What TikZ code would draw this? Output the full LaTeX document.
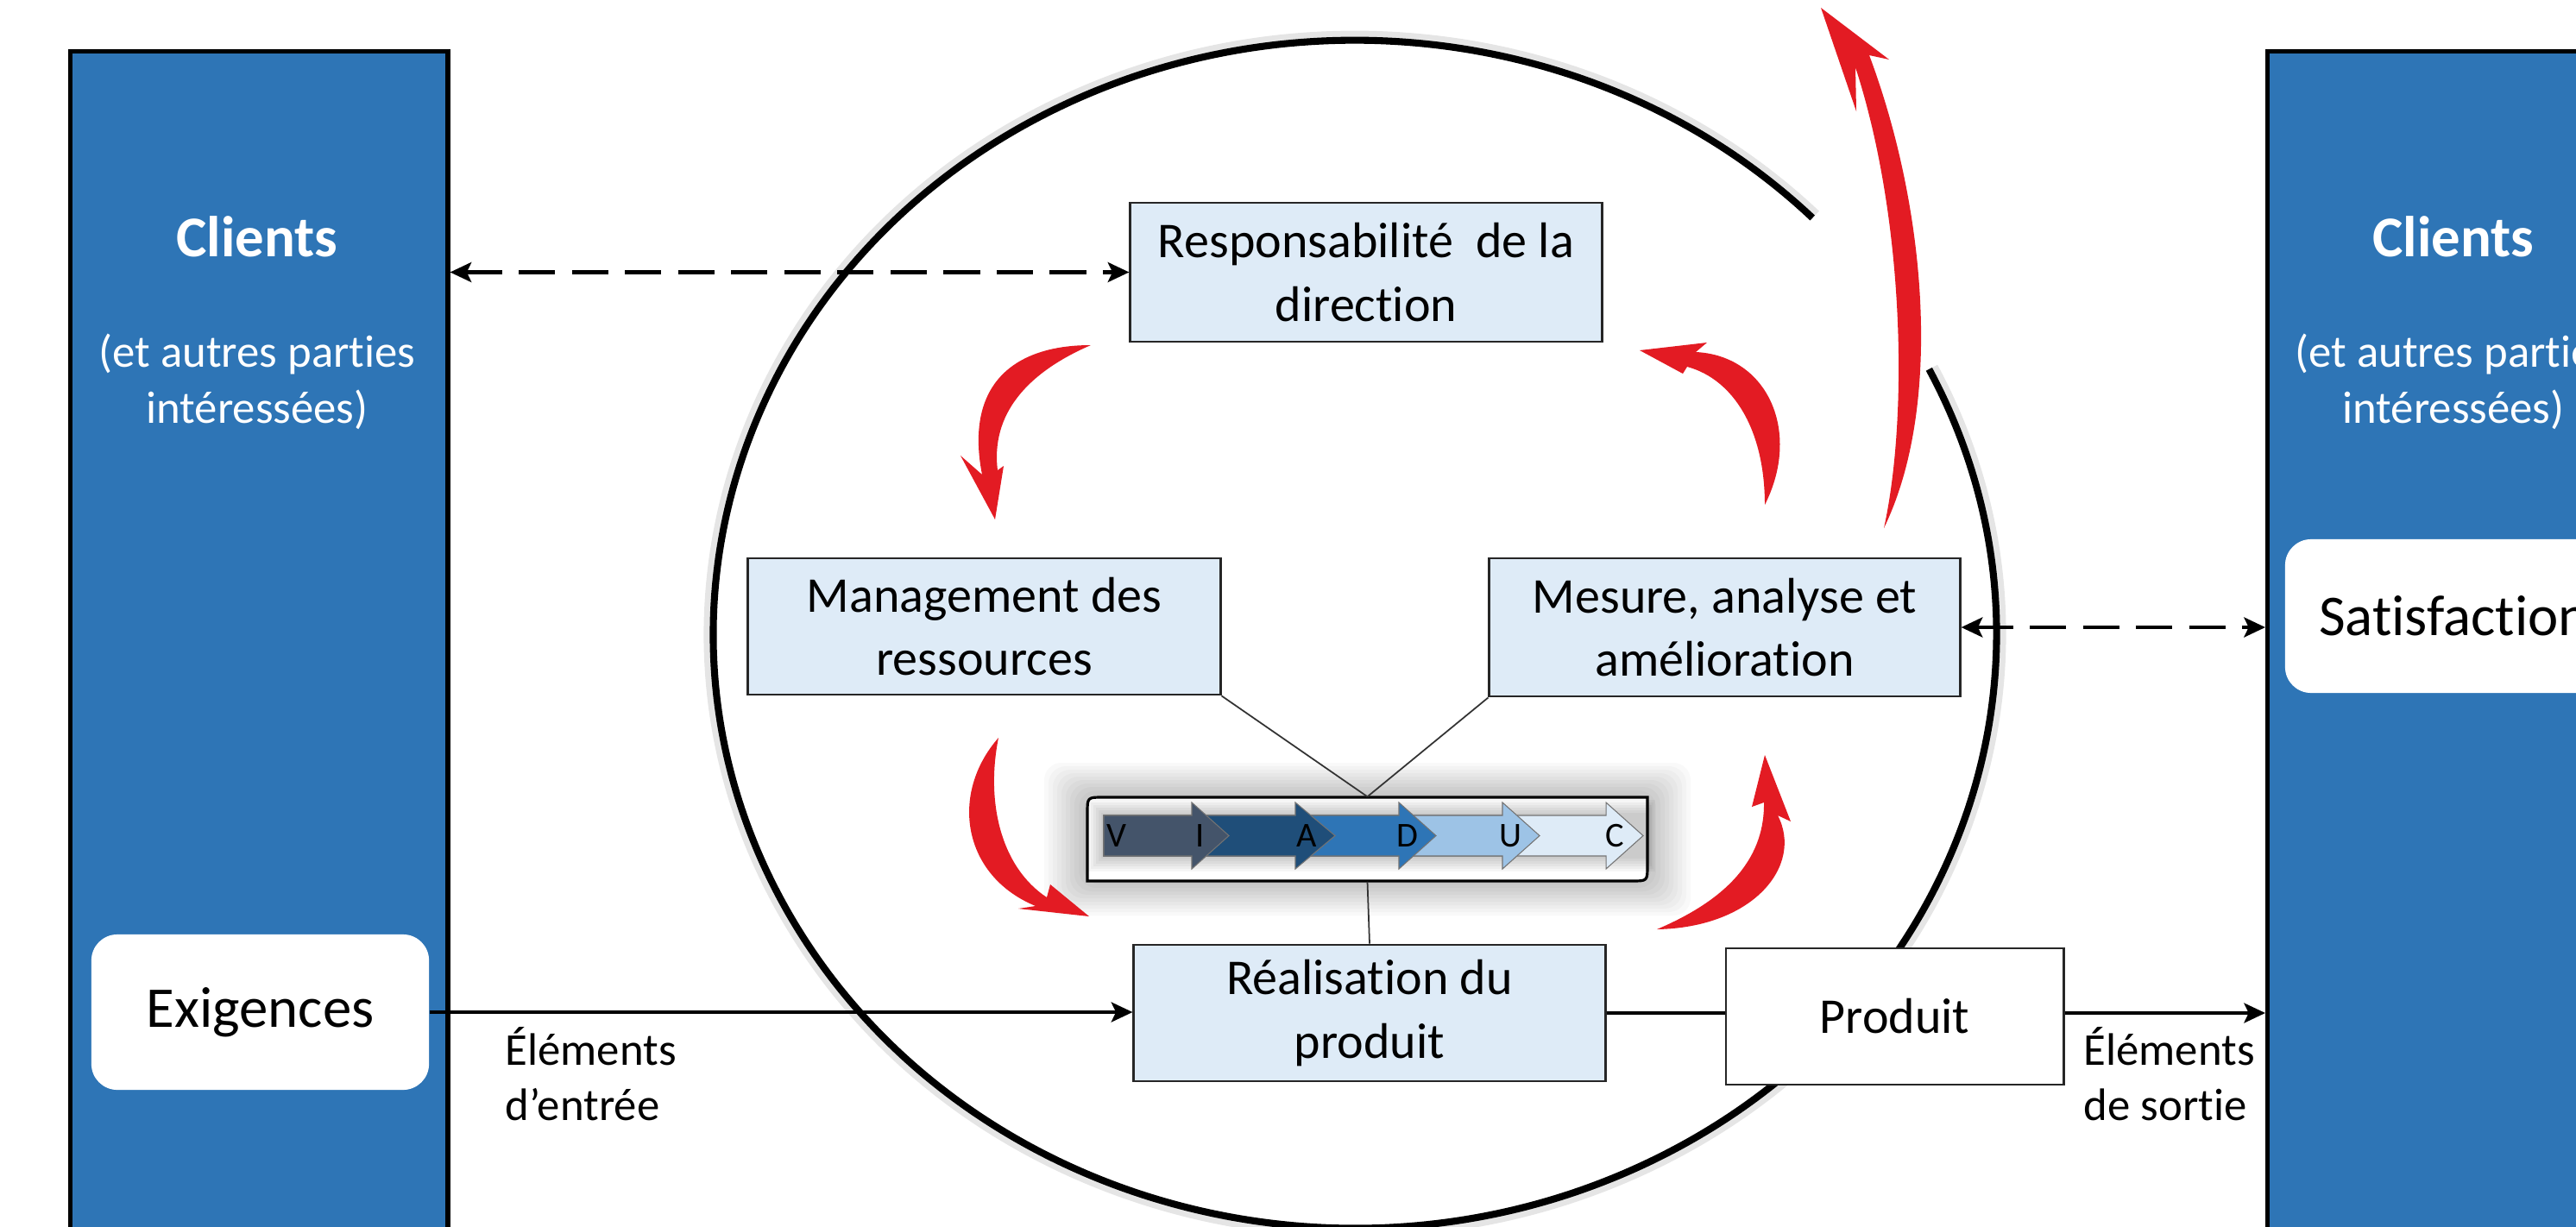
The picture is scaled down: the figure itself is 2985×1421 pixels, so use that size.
\documentclass[tikz,border=0pt]{standalone}
\usepackage{fontspec}
\setmainfont{Carlito}[Ligatures=NoCommon]
\usetikzlibrary{arrows.meta}
\definecolor{cblue}{RGB}{46,117,182}
\definecolor{boxblue}{RGB}{222,235,247}
\definecolor{cred}{RGB}{227,27,35}
\definecolor{vslate}{RGB}{68,84,106}
\definecolor{vnavy}{RGB}{31,78,121}
\definecolor{vmid}{RGB}{46,117,182}
\definecolor{vlight}{RGB}{157,195,230}
\definecolor{vpale}{RGB}{222,235,247}
\tikzset{
  procbox/.style={draw=black!85, line width=0.8pt, fill=boxblue, align=center,
    font=\fontsize{16.5}{20.8}\selectfont, inner sep=0pt},
  bluerect/.style={draw=black, line width=1.5pt, fill=cblue, inner sep=0pt},
  whitebox/.style={fill=white, rounded corners=0.3cm, inner sep=0pt,
    font=\fontsize{19}{22}\selectfont},
  clienttitle/.style={font=\bfseries\fontsize{19}{23}\selectfont, text=white, anchor=base, inner sep=0pt},
  clientsub/.style={font=\fontsize{15}{18.5}\selectfont, text=white, align=center, anchor=north, inner sep=0pt},
  eltlabel/.style={font=\fontsize{15}{18.2}\selectfont, align=left, anchor=north west, inner sep=0pt},
  redarr/.style={fill=cred, draw=none},
  dasharrow/.style={line width=1.3pt, dash pattern=on 12pt off 5.5pt, {Stealth[length=7pt,width=6.5pt,inset=1.5pt]}-{Stealth[length=7pt,width=6.5pt,inset=1.5pt]}},
  flow/.style={line width=1.2pt},
  thinline/.style={line width=0.5pt, draw=black!80},
  vletter/.style={font=\fontsize{11.5}{11.5}\selectfont, inner sep=0pt}
}
\begin{document}
\begin{tikzpicture}[x=0.01cm,y=-0.01cm]
\clip (0,0) rectangle (2985,1421);
\fill[white] (0,0) rectangle (2985,1421);

% big ellipse (open at top right)
\coordinate (ec) at (1570,735);
\draw[line width=4pt, black, opacity=0.1] (ec) ++(26.5:7.47cm and 6.92cm)
  arc[start angle=26.5, end angle=-315.5, x radius=7.47cm, y radius=6.92cm];
\draw[line width=2.3pt] (ec) ++(26.5:7.43cm and 6.88cm)
  arc[start angle=26.5, end angle=-315.5, x radius=7.43cm, y radius=6.88cm];

% side columns
\node[bluerect, anchor=north west, minimum width=4.37cm, minimum height=14cm] (clL) at (79,57) {};
\node[bluerect, anchor=north west, minimum width=4.37cm, minimum height=14cm] (clR) at (2625,57) {};
\node[clienttitle] (clLt) at (298,297) {Clients};
\node[clientsub] (clLs) at (298,386) {(et autres parties\\intéressées)};
\node[clienttitle] (clRt) at (2843,297) {Clients};
\node[clientsub] (clRs) at (2843,386) {(et autres parties\\intéressées)};
\node[whitebox, minimum width=3.91cm, minimum height=1.80cm] (exig) at (301.5,1173) {Exigences};
\node[whitebox, minimum width=3.91cm, minimum height=1.78cm] (satis) at (2843.5,714) {Satisfaction};

% process boxes
\node[procbox, minimum width=5.46cm, minimum height=1.61cm] (resp) at (1583,315.5) {Responsabilité\ \ de la\\direction};
\node[procbox, minimum width=5.47cm, minimum height=1.58cm] (mgmt) at (1140.5,726) {Management des\\ressources};
\node[procbox, minimum width=5.45cm, minimum height=1.60cm] (mesure) at (1998.5,727) {Mesure, analyse et\\amélioration};
\node[procbox, minimum width=5.46cm, minimum height=1.58cm] (real) at (1587,1174) {Réalisation du\\produit};
\node[procbox, fill=white, minimum width=3.91cm, minimum height=1.58cm] (produit) at (2195.5,1178) {Produit};

% VIADUC bar
\foreach \i in {1,...,10} {
  \fill[black, opacity=0.022, rounded corners=0.2cm] (1260-5*\i,924-4*\i) rectangle (1909+5*\i,1021+4*\i);
}
\filldraw[fill=white, draw=black, line width=0.9pt] (1260,1021) -- (1260,942) .. controls (1260,924) .. (1278,924)
  -- (1909,924) -- (1909,1003) .. controls (1909,1021) .. (1891,1021) -- cycle;
\foreach \i in {1,...,6} {
  \fill[black, opacity=0.035] (1279-3*\i,945-3*\i) rectangle (1906+2*\i,992+3*\i);
}
\foreach \xb/\xt/\c in {1861/1904/vpale, 1741/1784/vlight, 1621/1664/vmid, 1501/1547/vnavy, 1381/1424/vslate} {
  \filldraw[fill=\c, draw=black!55, line width=0.3pt] (1279,945) -- (\xb,945) -- (\xb,930) -- (\xt,968.5)
    -- (\xb,1007) -- (\xb,992) -- (1279,992) -- cycle;
}
\foreach \x/\l in {1294/V,1391/I,1514/A,1631/D,1750/U,1871/C} {
  \node[vletter] (let\l) at (\x,968.5) {\l};
}
\node[minimum width=6.49cm, minimum height=0.97cm, inner sep=0pt] (viaduc) at (1584.5,972.5) {};

\draw[thinline] (mgmt.south east) -- (viaduc.north);
\draw[thinline] (mesure.south west) -- (viaduc.north);
\draw[thinline] (viaduc.south) -- (real.north);

% connectors
\draw[dasharrow] (clL.east |- resp.west) -- (resp.west);
\draw[dasharrow] (mesure.east) -- (clR.west |- mesure.east);
\draw[flow, -{Stealth[length=7pt,width=6.5pt,inset=1.5pt]}] (exig.east) -- (real.west |- exig.east);
\draw[flow] (real.east) -- (produit.west |- real.east);
\draw[flow, -{Stealth[length=7pt,width=6.5pt,inset=1.5pt]}] (produit.east |- real.east) -- (clR.west |- real.east);

\node[eltlabel] (inlab) at (585,1190) {Éléments\\d’entrée};
\node[eltlabel] (outlab) at (2414,1190) {Éléments\\de sortie};

% red curved arrows
\fill[redarr] (1264,400) .. controls (1172,400) and (1118,448) .. (1138,550) -- (1113,528) -- (1153,602)
  -- (1163,540) -- (1156,545) .. controls (1148,480) and (1190,432) .. (1264,400) -- cycle;
\fill[redarr] (1157,855) .. controls (1100,920) and (1115,1015) .. (1200,1050) -- (1180,1053) -- (1262,1062)
  -- (1217,1025) -- (1213,1040) .. controls (1160,1005) and (1142,930) .. (1157,855) -- cycle;
\fill[redarr] (1920,1077) .. controls (2032,1075) and (2090,1003) .. (2060,945) -- (2075,952) -- (2045,875)
  -- (2030,935) -- (2044,930) .. controls (2045,1000) and (1995,1045) .. (1920,1077) -- cycle;
\fill[redarr] (2045,585) .. controls (2088,500) and (2048,412) .. (1965,408) -- (1978,397) -- (1900,406)
  -- (1950,433) -- (1955,425) .. controls (2010,440) and (2045,500) .. (2045,585) -- cycle;
\fill[redarr] (2183,612) .. controls (2212,480) and (2206,250) .. (2150,78) -- (2151,129) -- (2110,9)
  -- (2189,69) -- (2166,64) .. controls (2232,240) and (2252,470) .. (2183,612) -- cycle;
\end{tikzpicture}
\end{document}
